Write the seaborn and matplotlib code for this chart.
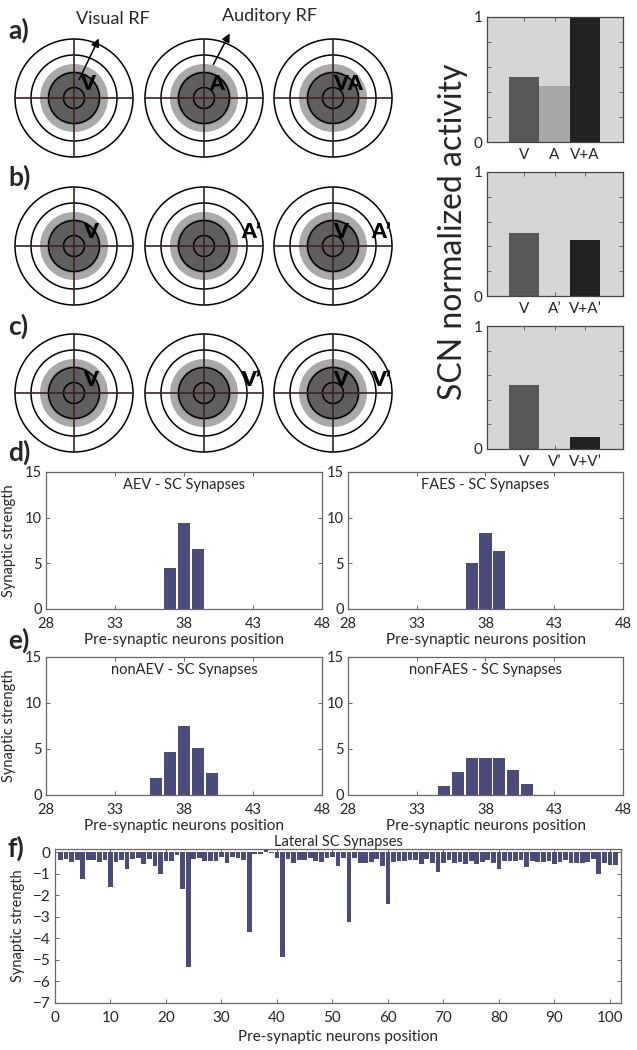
import numpy as np
import matplotlib
matplotlib.use('Agg')
from matplotlib import pyplot as plt
from matplotlib.patches import Circle
import seaborn as sns

# ---- a-c) normalized SCN activity per condition
cond_a = ['V', 'A', 'V+A']
act_a = [0.52, 0.445, 1.0]
cond_b = ['V', 'A’', 'V+A’']
act_b = [0.51, 0.0, 0.45]
cond_c = ['V', 'V’', 'V+V’']
act_c = [0.52, 0.0, 0.10]

# ---- d-e) synapse strengths (only non-zero neurons)
pos_aev = [37, 38, 39, 40]
syn_aev = [4.5, 9.4, 6.6, 0.05]
pos_faes = [37, 38, 39]
syn_faes = [5.0, 8.3, 6.4]
pos_nonaev = [36, 37, 38, 39, 40]
syn_nonaev = [1.9, 4.65, 7.55, 5.15, 2.4]
pos_nonfaes = [35, 36, 37, 38, 39, 40, 41]
syn_nonfaes = [1.0, 2.45, 4.0, 4.0, 4.0, 2.7, 1.25]

# ---- f) lateral SC synapses, neurons 1..101
lateral_pos = list(range(1, 102))
lateral_syn = [
    -0.38, -0.33, -0.47, -0.38, -1.25, -0.38, -0.38, -0.45, -0.38, -1.60,
    -0.45, -0.38, -0.80, -0.33, -0.25, -0.55, -0.30, -0.64, -1.03, -0.40,
    -0.40, -0.15, -1.70, -5.32, -0.30, -0.25, -0.40, -0.40, -0.40, -0.20,
    -0.52, -0.20, -0.28, -0.35, -3.72, -0.10, -0.07, 0.10, -0.03, -0.28,
    -4.85, -0.30, -0.50, -0.35, -0.35, -0.28, -0.40, -0.45, -0.25, -0.20,
    -0.65, -0.25, -3.25, -0.25, -0.50, -0.50, -0.45, -0.30, -0.62, -2.40,
    -0.45, -0.40, -0.40, -0.38, -0.35, -0.55, -0.30, -0.50, -0.90, -0.50,
    -0.35, -0.50, -0.45, -0.55, -0.40, -0.55, -0.45, -0.35, -0.50, -0.80,
    -0.40, -0.42, -0.42, -0.38, -0.68, -0.40, -0.45, -0.45, -0.42, -0.55,
    -0.45, -0.38, -0.52, -0.52, -0.50, -0.45, -0.30, -1.00, -0.50, -0.60,
    -0.58,
]

# ---- receptive field schematic
ring_radii = [59, 43, 25.5, 10.5]
rf_cols_x = [74, 204, 333]
rf_rows_y = [98, 246, 393]
# (text, column, dx, dy) per row
stim_labels = [
    [('V', 0, 14, -15), ('A', 1, 13, -14), ('VA', 2, 15, -15)],
    [('V', 0, 17, -15), ('A’', 1, 47, -14), ('V', 2, 8, -14), ('A’', 2, 48, -14)],
    [('V', 0, 17, -13), ('V’', 1, 47, -13), ('V', 2, 8, -13), ('V’', 2, 48, -13)],
]

sns.set_style('ticks')
plt.rcParams['font.family'] = ['Lato', 'DejaVu Sans']

W, H = 637, 1050
fig = plt.figure(figsize=(W / 100, H / 100), dpi=100)

BAR = '#4b4b7b'
SPINE = '#666666'


def add_ax(l, t, r, b):
    return fig.add_axes([l / W, 1 - b / H, (r - l) / W, (b - t) / H])


def matlab_box(ax, labelsize=11, xpad=4):
    for s in ax.spines.values():
        s.set_visible(True)
        s.set_color(SPINE)
        s.set_linewidth(0.9)
    ax.tick_params(direction='in', top=True, right=True, length=3,
                   width=0.7, color=SPINE, labelsize=labelsize)
    ax.tick_params(axis='x', pad=xpad)
    ax.tick_params(axis='y', pad=3)


# ---------- schematic of receptive fields
dax = add_ax(0, 0, 440, 460)
dax.set_xlim(0, 440)
dax.set_ylim(460, 0)
dax.axis('off')
for cy in rf_rows_y:
    for cx in rf_cols_x:
        dax.add_patch(Circle((cx, cy), 34, color='#a9a9a9', lw=0, zorder=1))
        dax.add_patch(Circle((cx, cy), 27, color='#5e5e5e', lw=0, zorder=2))
        dax.add_patch(Circle((cx, cy), 26.6, fill=False, ec='#9a9a9a', lw=0.8, zorder=2))
        for r in ring_radii:
            dax.add_patch(Circle((cx, cy), r, fill=False, ec='black', lw=1.1, zorder=3))
        R = ring_radii[0]
        dax.plot([cx - R, cx + R], [cy, cy], color='#3a2222', lw=1.2, zorder=4)
        dax.plot([cx, cx], [cy - R, cy + R], color='#3a2222', lw=1.2, zorder=4)
for cy, labels in zip(rf_rows_y, stim_labels):
    for txt, col, dx, dy in labels:
        dax.text(rf_cols_x[col] + dx, cy + dy, txt, fontsize=15, fontweight='heavy',
                 color='black', ha='center', va='center', zorder=5)

dax.annotate('Visual RF', xy=(100, 36), xytext=(113, 19), ha='center', va='center',
             fontsize=13, annotation_clip=False)
dax.annotate('', xy=(100, 36), xytext=(78, 82),
             arrowprops=dict(arrowstyle='-|>', color='black', lw=1.1, mutation_scale=12))
dax.annotate('Auditory RF', xy=(231, 32), xytext=(270, 16), ha='center', va='center',
             fontsize=13, annotation_clip=False)
dax.annotate('', xy=(231, 31), xytext=(212, 67),
             arrowprops=dict(arrowstyle='-|>', color='black', lw=1.1, mutation_scale=12))

for lab, y in zip(['a)', 'b)', 'c)', 'd)', 'e)', 'f)'], [30, 177, 326, 452, 640, 848]):
    fig.text(8 / W, 1 - y / H, lab, fontsize=19, fontweight='bold', va='center', ha='left')

# ---------- a-c bar charts
bar_palette = ['#585858', '#a8a8a8', '#222222']
for (t, b), cond, act in zip([(17, 142), (172, 296), (326, 449)],
                             [cond_a, cond_b, cond_c], [act_a, act_b, act_c]):
    ax = add_ax(487, t, 623, b)
    sns.barplot(x=cond, y=act, hue=cond, palette=bar_palette, width=1.0,
                saturation=1, legend=False, errorbar=None, ax=ax, linewidth=0)
    ax.set_facecolor('#d6d6d6')
    ax.set_xlim(-1.22, 3.25)
    ax.set_ylim(0, 1)
    ax.set_yticks([0, 0.2, 0.4, 0.6, 0.8, 1.0])
    ax.set_yticklabels(['0', '', '', '', '', '1'])
    ax.set_xlabel('')
    ax.set_ylabel('')
    matlab_box(ax)
    ax.spines[:].set_color('#444444')

fig.text(453 / W, 1 - 232 / H, 'SCN normalized activity', rotation=90,
         fontsize=23, ha='center', va='center')

# ---------- d-e synapse panels
panels = [
    ((46, 472, 322, 609), pos_aev, syn_aev, 'AEV - SC Synapses', True),
    ((348, 472, 623, 609), pos_faes, syn_faes, 'FAES - SC Synapses', False),
    ((46, 657, 322, 795), pos_nonaev, syn_nonaev, 'nonAEV - SC Synapses', True),
    ((348, 657, 623, 795), pos_nonfaes, syn_nonfaes, 'nonFAES - SC Synapses', False),
]
for box, pos, vals, title, left in panels:
    ax = add_ax(*box)
    sns.barplot(x=pos, y=vals, native_scale=True, color=BAR, saturation=1,
                width=0.88, errorbar=None, ax=ax, linewidth=0)
    ax.set_xlim(28, 48)
    ax.set_ylim(0, 15)
    ax.set_xticks([28, 33, 38, 43, 48])
    ax.set_yticks([0, 5, 10, 15])
    ax.text(0.5, 0.905, title, transform=ax.transAxes, ha='center', va='center', fontsize=10.5)
    ax.set_xlabel('Pre-synaptic neurons position', fontsize=11, labelpad=1)
    ax.set_ylabel('Synaptic strength' if left else '', fontsize=10.5, labelpad=6)
    matlab_box(ax, labelsize=10.5, xpad=6)

# ---------- f lateral synapses
ax = add_ax(55, 849, 621, 1003)
sns.barplot(x=lateral_pos, y=lateral_syn, native_scale=True, color=BAR, saturation=1,
            width=0.85, errorbar=None, ax=ax, linewidth=0)
ax.set_xlim(0, 102)
ax.set_ylim(-7, 0.15)
ax.set_xticks(range(0, 101, 10))
ax.set_yticks(range(-7, 1))
ax.set_title('Lateral SC Synapses', fontsize=10.5, pad=2)
ax.set_xlabel('Pre-synaptic neurons position', fontsize=11, labelpad=3)
ax.set_ylabel('Synaptic strength', fontsize=10.5, labelpad=6)
matlab_box(ax, xpad=6)

plt.savefig('out.png', dpi=100)
